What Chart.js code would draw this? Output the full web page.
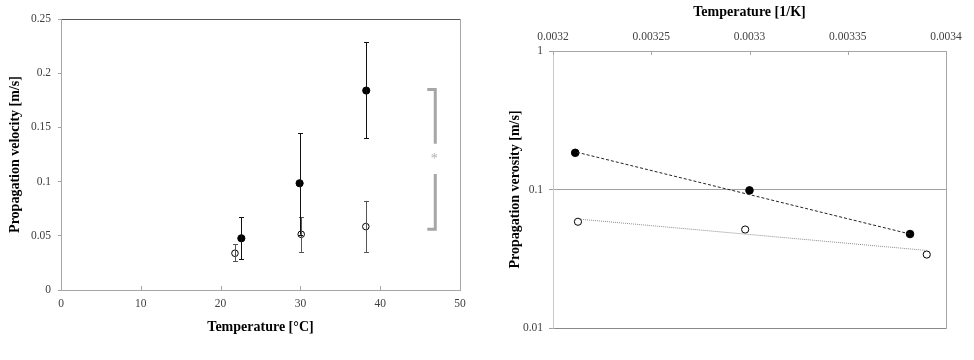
<!DOCTYPE html>
<html><head><meta charset="utf-8">
<script src="https://cdn.jsdelivr.net/npm/chart.js@4"></script>
<style>
html,body{margin:0;padding:0;background:#fff;width:974px;height:360px;overflow:hidden}
#c1{position:absolute;left:0;top:0}
#c2{position:absolute;left:480px;top:0}
</style></head><body>
<canvas id="c1" width="480" height="360"></canvas>
<canvas id="c2" width="494" height="360"></canvas>
<script>
// ---- data ----
const tempFilled = [22.6, 29.9, 38.25];
const velFilled  = [0.0477, 0.0985, 0.184];
const upFilled   = [0.0671, 0.1447, 0.2284];
const lowFilled  = [0.0283, 0.051, 0.1401];
const tempOpen   = [21.8, 30.1, 38.2];
const velOpen    = [0.0339, 0.0514, 0.0585];
const upOpen     = [0.0422, 0.0671, 0.0822];
const lowOpen    = [0.0268, 0.0351, 0.0351];
// 1/T for the same points (same order as the temperatures above)
const invTFilled = [0.0033817, 0.0033, 0.0032113];
const invTOpen   = [0.0033902, 0.0032978, 0.0032127];
// exponential trend lines read at the first and last 1/T of each series
const trendFilled = [0.0477, 0.187];
const trendOpen   = [0.0363, 0.0612];
const leftXTicks  = [0, 10, 20, 30, 40, 50];
const leftYTicks  = [0, 0.05, 0.1, 0.15, 0.2, 0.25];
const leftYLabels = ['0', '0.05', '0.1', '0.15', '0.2', '0.25'];
const rightXTicks  = [0.0032, 0.00325, 0.0033, 0.00335, 0.0034];
const rightXLabels = ['0.0032', '0.00325', '0.0033', '0.00335', '0.0034'];
const rightYTicks  = [0.01, 0.1, 1];
const rightYLabels = ['0.01', '0.1', '1'];
// significance bracket (data coordinates)
const bracketX = [45.9, 46.9];
const bracketY = [0.185, 0.056];
const bracketGap = [0.135, 0.107];
const bracketStarY = 0.122;

const SERIF = "'Liberation Serif', 'Times New Roman', serif";
const tickFont = {family: SERIF, size: 11.5};
const titleFont = {family: SERIF, size: 14, weight: 'bold'};
const FRAME = '#a6a6a6';

function makeFrame(colors) {
  return {
    id: 'frame',
    afterDraw(chart) {
      const a = chart.chartArea, ctx = chart.ctx;
      const l = Math.round(a.left) + 0.5, r = Math.round(a.right) + 0.5;
      const t = Math.round(a.top) + 0.5, b = Math.round(a.bottom) + 0.5;
      ctx.save();
      ctx.lineWidth = 1;
      const seg = (c, x1, y1, x2, y2) => { ctx.strokeStyle = c; ctx.beginPath(); ctx.moveTo(x1, y1); ctx.lineTo(x2, y2); ctx.stroke(); };
      seg(colors.top, l, t, r, t);
      seg(colors.right, r, t, r, b);
      seg(colors.bottom, l, b, r, b);
      seg(colors.left, l, t, l, b);
      ctx.restore();
    }
  };
}

const errPlugin = {
  id: 'errbars',
  afterDatasetsDraw(chart) {
    const ctx = chart.ctx, xs = chart.scales.x, ys = chart.scales.y;
    chart.data.datasets.forEach(ds => {
      if (!ds.errUp) return;
      ctx.save();
      ctx.strokeStyle = ds.errColor; ctx.lineWidth = 1;
      ds.data.forEach((p, i) => {
        const x = Math.round(xs.getPixelForValue(p.x)) + 0.5;
        const y1 = ys.getPixelForValue(ds.errUp[i]);
        const y2 = ys.getPixelForValue(ds.errLow[i]);
        ctx.beginPath();
        ctx.moveTo(x, y1); ctx.lineTo(x, y2);
        ctx.moveTo(x - 2.5, Math.round(y1) + 0.5); ctx.lineTo(x + 2.5, Math.round(y1) + 0.5);
        ctx.moveTo(x - 2.5, Math.round(y2) + 0.5); ctx.lineTo(x + 2.5, Math.round(y2) + 0.5);
        ctx.stroke();
      });
      ctx.restore();
    });
  }
};

const bracketPlugin = {
  id: 'bracket',
  afterDraw(chart) {
    const ctx = chart.ctx, xs = chart.scales.x, ys = chart.scales.y;
    const xl = xs.getPixelForValue(bracketX[0]), xr = xs.getPixelForValue(bracketX[1]);
    const yt = ys.getPixelForValue(bracketY[0]), yb = ys.getPixelForValue(bracketY[1]);
    const g1 = ys.getPixelForValue(bracketGap[0]), g2 = ys.getPixelForValue(bracketGap[1]);
    ctx.save();
    ctx.strokeStyle = '#a6a6a6'; ctx.lineWidth = 3; ctx.lineCap = 'butt'; ctx.lineJoin = 'miter';
    ctx.beginPath();
    ctx.moveTo(xl, yt); ctx.lineTo(xr, yt); ctx.lineTo(xr, g1);
    ctx.moveTo(xr, g2); ctx.lineTo(xr, yb); ctx.lineTo(xl, yb);
    ctx.stroke();
    ctx.fillStyle = '#b0b0b0';
    ctx.font = '14px ' + SERIF;
    ctx.textAlign = 'center'; ctx.textBaseline = 'middle';
    ctx.fillText('*', xr - 1, ys.getPixelForValue(bracketStarY) + 2);
    ctx.restore();
  }
};

function makeInnerTicks(values, edge) {
  return {
    id: 'innerTicks',
    afterDraw(chart) {
      const ctx = chart.ctx, xs = chart.scales.x, a = chart.chartArea;
      ctx.save();
      ctx.strokeStyle = FRAME; ctx.lineWidth = 1;
      ctx.beginPath();
      values.forEach(v => {
        const x = Math.round(xs.getPixelForValue(v)) + 0.5;
        if (edge === 'top') { ctx.moveTo(x, a.top); ctx.lineTo(x, a.top + 4); }
        else { ctx.moveTo(x, a.bottom); ctx.lineTo(x, a.bottom - 4); }
      });
      ctx.stroke();
      ctx.restore();
    }
  };
}

new Chart(document.getElementById('c1'), {
  type: 'scatter',
  data: {
    datasets: [
      { data: tempOpen.map((x, i) => ({x, y: velOpen[i]})),
        errUp: upOpen, errLow: lowOpen, errColor: '#555555',
        pointRadius: 3.3, pointBackgroundColor: 'rgba(255,255,255,0)', pointBorderColor: '#000', pointBorderWidth: 1 },
      { data: tempFilled.map((x, i) => ({x, y: velFilled[i]})),
        errUp: upFilled, errLow: lowFilled, errColor: '#111111',
        pointRadius: 3.6, pointBackgroundColor: '#000', pointBorderColor: '#000', pointBorderWidth: 1 }
    ]
  },
  options: {
    responsive: false, animation: false, devicePixelRatio: 1,
    layout: {padding: {left: 0, right: 20, top: 19, bottom: 0}},
    plugins: {legend: {display: false}, tooltip: {enabled: false}},
    scales: {
      x: {
        type: 'linear', min: 0, max: 50,
        afterBuildTicks: s => { s.ticks = leftXTicks.map(v => ({value: v})); },
        afterFit: s => { s.height = 70; },
        grid: {drawOnChartArea: false, drawTicks: false, color: FRAME},
        border: {color: FRAME},
        ticks: {font: tickFont, color: '#404040', padding: 7, maxRotation: 0, callback: v => String(v)},
        title: {display: true, text: 'Temperature [°C]', font: titleFont, color: '#000', padding: {top: 0, bottom: 24}}
      },
      y: {
        type: 'linear', min: 0, max: 0.25,
        afterBuildTicks: s => { s.ticks = leftYTicks.map(v => ({value: v})); },
        afterFit: s => { s.width = 61; },
        grid: {drawOnChartArea: false, drawTicks: true, tickLength: 3, color: FRAME},
        border: {color: FRAME},
        ticks: {font: tickFont, color: '#404040', padding: 7, callback: (v, i) => leftYLabels[i]},
        title: {display: true, text: 'Propagation velocity [m/s]', font: titleFont, color: '#000', padding: {top: 7, bottom: 0}}
      }
    }
  },
  plugins: [makeFrame({top: '#555555', right: FRAME, bottom: FRAME, left: FRAME}), makeInnerTicks(leftXTicks, 'bottom'), errPlugin, bracketPlugin]
});

new Chart(document.getElementById('c2'), {
  type: 'scatter',
  data: {
    datasets: [
      { data: [{x: invTFilled[0], y: trendFilled[0]}, {x: invTFilled[2], y: trendFilled[1]}],
        showLine: true, borderColor: '#222', borderWidth: 1, borderDash: [3, 2], pointRadius: 0 },
      { data: [{x: invTOpen[0], y: trendOpen[0]}, {x: invTOpen[2], y: trendOpen[1]}],
        showLine: true, borderColor: '#8c8c8c', borderWidth: 1, borderDash: [1, 1], pointRadius: 0 },
      { data: invTOpen.map((x, i) => ({x, y: velOpen[i]})),
        pointRadius: 3.6, pointBackgroundColor: '#fff', pointBorderColor: '#000', pointBorderWidth: 1 },
      { data: invTFilled.map((x, i) => ({x, y: velFilled[i]})),
        pointRadius: 3.8, pointBackgroundColor: '#000', pointBorderColor: '#000', pointBorderWidth: 1 }
    ]
  },
  options: {
    responsive: false, animation: false, devicePixelRatio: 1,
    layout: {padding: {left: 0, right: 28, top: 0, bottom: 32}},
    plugins: {legend: {display: false}, tooltip: {enabled: false}},
    scales: {
      x: {
        type: 'linear', position: 'top', min: 0.0032, max: 0.0034,
        afterBuildTicks: s => { s.ticks = rightXTicks.map(v => ({value: v})); },
        afterFit: s => { s.height = 51; },
        grid: {display: false},
        border: {color: FRAME},
        ticks: {font: tickFont, color: '#404040', padding: -1, maxRotation: 0, callback: (v, i) => rightXLabels[i]},
        title: {display: true, text: 'Temperature [1/K]', font: titleFont, color: '#000', padding: {top: 4, bottom: 0}}
      },
      y: {
        type: 'logarithmic', min: 0.01, max: 1,
        afterBuildTicks: s => { s.ticks = rightYTicks.map(v => ({value: v})); },
        afterFit: s => { s.width = 73; },
        grid: {drawOnChartArea: true, drawTicks: true, tickLength: 4, color: '#a0a0a0'},
        border: {color: '#c8c8c8'},
        ticks: {font: tickFont, color: '#404040', padding: 6, callback: (v, i) => rightYLabels[i]},
        title: {display: true, text: 'Propagation verosity [m/s]', font: titleFont, color: '#000', padding: {top: 27, bottom: 0}}
      }
    }
  },
  plugins: [makeFrame({top: FRAME, right: FRAME, bottom: '#8a8a8a', left: '#c8c8c8'}), makeInnerTicks(rightXTicks, 'top')]
});
</script>
</body></html>
